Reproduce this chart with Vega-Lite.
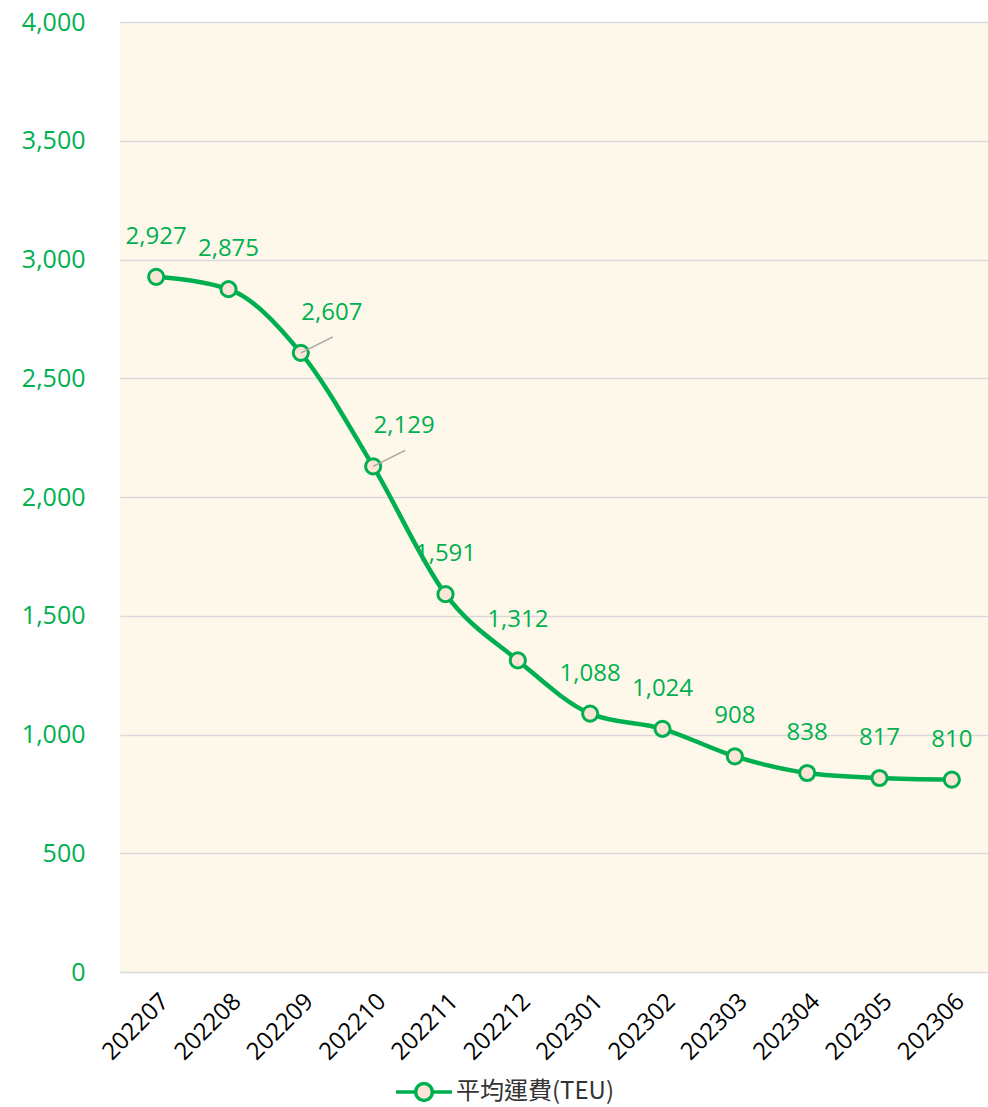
{
  "$schema": "https://vega.github.io/schema/vega-lite/v6.json",
  "width": 868,
  "height": 950,
  "autosize": "none",
  "padding": {"left": 120, "top": 22, "right": 0, "bottom": 135},
  "background": "#FFFFFF",
  "config": {
    "view": {"fill": "#FEF8EB", "stroke": null},
    "font": "Open Sans"
  },
  "data": {
    "values": [
      {"month": "202207", "fee": 2927, "series": "平均運費(TEU)"},
      {"month": "202208", "fee": 2875, "series": "平均運費(TEU)"},
      {"month": "202209", "fee": 2607, "series": "平均運費(TEU)"},
      {"month": "202210", "fee": 2129, "series": "平均運費(TEU)"},
      {"month": "202211", "fee": 1591, "series": "平均運費(TEU)"},
      {"month": "202212", "fee": 1312, "series": "平均運費(TEU)"},
      {"month": "202301", "fee": 1088, "series": "平均運費(TEU)"},
      {"month": "202302", "fee": 1024, "series": "平均運費(TEU)"},
      {"month": "202303", "fee": 908, "series": "平均運費(TEU)"},
      {"month": "202304", "fee": 838, "series": "平均運費(TEU)"},
      {"month": "202305", "fee": 817, "series": "平均運費(TEU)"},
      {"month": "202306", "fee": 810, "series": "平均運費(TEU)"}
    ]
  },
  "encoding": {
    "x": {
      "field": "month",
      "type": "ordinal",
      "scale": {"type": "point", "padding": 0.5},
      "axis": {
        "title": null,
        "domain": false,
        "ticks": false,
        "labelAngle": -45,
        "labelFontSize": 24,
        "labelFontWeight": 500,
        "labelColor": "#000000",
        "labelPadding": 17
      }
    },
    "y": {
      "field": "fee",
      "type": "quantitative",
      "scale": {"domain": [0, 4000]},
      "axis": {
        "title": null,
        "domain": false,
        "ticks": false,
        "values": [0, 500, 1000, 1500, 2000, 2500, 3000, 3500, 4000],
        "format": ",d",
        "labelFontSize": 25,
        "labelFontWeight": 500,
        "labelColor": "#00B050",
        "labelPadding": 35,
        "gridColor": "#D9D9D9",
        "gridWidth": 1.5
      }
    }
  },
  "layer": [
    {
      "mark": {"type": "line", "interpolate": "monotone", "strokeWidth": 4.5},
      "encoding": {
        "color": {
          "field": "series",
          "type": "nominal",
          "scale": {"range": ["#00B050"]},
          "legend": {
            "title": null,
            "orient": "none",
            "legendX": 274,
            "legendY": 1040,
            "labelFontSize": 24,
            "labelColor": "#333333",
            "labelFont": "Noto Sans CJK TC",
            "labelOffset": 2,
            "symbolType": "M -1 0 L -0.3 0 M 0.3 0 L 1 0 M -0.3 0 A 0.3 0.3 0 1 0 0.3 0 A 0.3 0.3 0 1 0 -0.3 0 Z",
            "symbolSize": 3136,
            "symbolStrokeWidth": 3,
            "encode": {
              "symbols": {
                "update": {
                  "fill": {"value": "#FCE4D6"},
                  "stroke": {"value": "#00B050"},
                  "strokeWidth": {"value": 3.5},
                  "opacity": {"value": 1}
                }
              }
            }
          }
        }
      }
    },
    {
      "mark": {"type": "point", "filled": true, "fill": "#FCE4D6", "stroke": "#00B050", "strokeWidth": 3, "size": 230, "opacity": 1}
    },
    {
      "transform": [{"filter": "datum.month != '202209' && datum.month != '202210'"}],
      "mark": {"type": "text", "dy": -40, "fontSize": 24, "fontWeight": 500, "color": "#00B050"},
      "encoding": {"text": {"field": "fee", "type": "quantitative", "format": ",d"}}
    },
    {
      "transform": [{"filter": "datum.month == '202209' || datum.month == '202210'"}],
      "mark": {"type": "text", "dy": -40, "dx": 31, "fontSize": 24, "fontWeight": 500, "color": "#00B050"},
      "encoding": {"text": {"field": "fee", "type": "quantitative", "format": ",d"}}
    },
    {
      "transform": [{"filter": "datum.month == '202209' || datum.month == '202210'"}],
      "mark": {"type": "rule", "color": "#A6A6A6", "strokeWidth": 1.5, "x2Offset": 32, "y2Offset": -16},
      "encoding": {
        "x2": {"field": "month"},
        "y2": {"field": "fee"}
      }
    }
  ]
}
